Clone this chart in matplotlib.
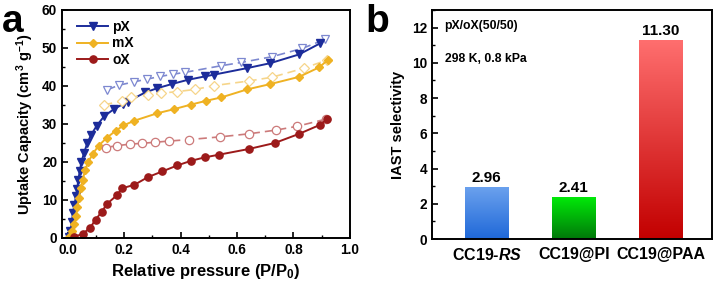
import numpy as np
import matplotlib.pyplot as plt
from matplotlib.ticker import MultipleLocator

plt.rcParams['font.family'] = ['Liberation Sans', 'DejaVu Sans']
plt.rcParams['font.weight'] = 'bold'
plt.rcParams['axes.labelweight'] = 'bold'
plt.rcParams['mathtext.fontset'] = 'custom'
plt.rcParams['mathtext.rm'] = 'Liberation Sans:bold'
plt.rcParams['mathtext.it'] = 'Liberation Sans:italic:bold'
plt.rcParams['mathtext.bf'] = 'Liberation Sans:bold'
plt.rcParams['mathtext.default'] = 'rm'

# 吸附 / 脱附 数据 (P/P0, cm3/g)
px_ads_x = [0.004, 0.01, 0.015, 0.019, 0.024, 0.03, 0.034, 0.038, 0.043, 0.049, 0.058, 0.07,
            0.084, 0.103, 0.129, 0.164, 0.198, 0.213, 0.275, 0.317, 0.369, 0.425, 0.485, 0.52,
            0.636, 0.718, 0.82, 0.894]
px_ads_y = [0.3, 1.8, 4.1, 6.6, 8.6, 11.0, 12.9, 15.3, 17.5, 20.0, 22.3, 25.0,
            27.2, 29.5, 32.0, 33.9, 35.3, 35.9, 38.3, 39.4, 40.5, 41.6, 42.5, 43.0,
            44.7, 46.0, 48.3, 51.2]
px_des_x = [0.141, 0.181, 0.237, 0.281, 0.327, 0.374, 0.417, 0.542, 0.616, 0.724, 0.832, 0.913]
px_des_y = [39.0, 40.2, 41.1, 41.8, 42.5, 43.1, 43.6, 45.3, 46.2, 47.7, 49.9, 52.3]

mx_ads_x = [0.005, 0.017, 0.024, 0.03, 0.035, 0.04, 0.046, 0.054, 0.062, 0.074, 0.09, 0.11,
            0.138, 0.17, 0.198, 0.234, 0.317, 0.377, 0.437, 0.491, 0.545, 0.636, 0.718, 0.82,
            0.891, 0.921]
mx_ads_y = [0.3, 1.8, 3.8, 5.9, 8.1, 10.5, 13.1, 15.3, 17.9, 20.1, 22.2, 24.3,
            26.3, 28.2, 29.6, 30.8, 32.8, 33.9, 35.1, 36.1, 37.0, 39.1, 40.5, 42.4,
            44.9, 46.8]
mx_des_x = [0.129, 0.192, 0.225, 0.285, 0.33, 0.387, 0.453, 0.519, 0.641, 0.724, 0.838, 0.918]
mx_des_y = [35.0, 36.1, 37.0, 37.6, 38.1, 38.5, 39.1, 40.1, 41.3, 42.3, 44.7, 46.8]

ox_ads_x = [0.024, 0.054, 0.08, 0.099, 0.121, 0.14, 0.174, 0.194, 0.237, 0.284, 0.335, 0.389,
            0.437, 0.485, 0.535, 0.641, 0.734, 0.82, 0.895, 0.918]
ox_ads_y = [0.3, 1.1, 2.7, 4.8, 6.9, 9.0, 11.2, 13.1, 14.0, 16.0, 17.5, 19.1,
            20.3, 21.2, 21.9, 23.4, 25.0, 27.4, 29.8, 31.2]
ox_des_x = [0.135, 0.176, 0.222, 0.262, 0.311, 0.359, 0.431, 0.539, 0.641, 0.739, 0.814, 0.916]
ox_des_y = [23.8, 24.3, 24.7, 24.9, 25.2, 25.5, 25.9, 26.6, 27.4, 28.4, 29.4, 31.3]

# IAST 选择性
samples = ['CC19-$\\mathit{RS}$', 'CC19@PI', 'CC19@PAA']
selectivity = [2.96, 2.41, 11.30]

fig = plt.figure(figsize=(7.2, 2.85), dpi=100)

# ---- a ----
ax1 = fig.add_axes([0.086, 0.165, 0.400, 0.800])
series = [
    ('pX', px_ads_x, px_ads_y, px_des_x, px_des_y, 'v', '#1c2c9a', '#7d88d0'),
    ('mX', mx_ads_x, mx_ads_y, mx_des_x, mx_des_y, 'D', '#efb223', '#f6d58a'),
    ('oX', ox_ads_x, ox_ads_y, ox_des_x, ox_des_y, 'o', '#9c1a1a', '#cc7a7a'),
]
for name, ax_, ay_, dx_, dy_, mk, c, lc in series:
    ms = 5.2 if mk != 'D' else 4.4
    ax1.plot(dx_, dy_, ls=(0, (5, 3)), color=lc, lw=1.2, marker=mk, ms=ms + 0.8,
             mfc='white', mec=lc, mew=0.9)
    ax1.plot(ax_, ay_, ls='-', color=c, lw=1.4, marker=mk, ms=ms, mfc=c, mec=c,
             label=name)
ax1.set_xlim(-0.02, 1.0)
ax1.set_ylim(0, 60)
ax1.xaxis.set_major_locator(MultipleLocator(0.2))
ax1.xaxis.set_minor_locator(MultipleLocator(0.1))
ax1.yaxis.set_major_locator(MultipleLocator(10))
ax1.yaxis.set_minor_locator(MultipleLocator(5))
ax1.set_xticks(np.arange(0, 1.01, 0.2))
ax1.set_xticklabels([f'{v:.1f}' for v in np.arange(0, 1.01, 0.2)])
ax1.set_xlabel('Relative pressure (P/P$_0$)', fontsize=12, labelpad=4)
ax1.set_ylabel('Uptake Capacity (cm$^3$ g$^{-1}$)', fontsize=10.5, labelpad=4)
ax1.legend(loc='upper left', frameon=False, fontsize=10, handlelength=2.2,
           handletextpad=0.3, labelspacing=0.2, borderaxespad=0.3,
           bbox_to_anchor=(0.02, 1.0))

# ---- b ----
ax2 = fig.add_axes([0.600, 0.161, 0.389, 0.804])
xpos = np.arange(len(samples))
bars = ax2.bar(xpos, selectivity, width=0.5, color='none', edgecolor='none', zorder=2)
grads = [('#1f68d8', '#6ca2ee'), ('#00780a', '#00ec08'), ('#c20000', '#ff6f6f')]
for b, (c0, c1) in zip(bars, grads):
    x0, y0 = b.get_x(), b.get_y()
    w, h = b.get_width(), b.get_height()
    c0 = np.array(plt.matplotlib.colors.to_rgb(c0))
    c1 = np.array(plt.matplotlib.colors.to_rgb(c1))
    t = np.linspace(0, 1, 256)[:, None]
    img = (c0 + (c1 - c0) * t)[:, None, :]
    im = ax2.imshow(img, extent=[x0, x0 + w, y0, y0 + h], origin='lower',
                    aspect='auto', zorder=1)
    im.set_clip_path(b)
    ax2.text(x0 + w / 2, h + 0.12, f'{h:.2f}', ha='center', va='bottom',
             fontsize=11, fontweight='bold')
ax2.set_xlim(-0.63, 2.59)
ax2.set_ylim(0, 13)
ax2.set_xticks(xpos)
ax2.set_xticklabels(samples, fontsize=11.5)
ax2.yaxis.set_major_locator(MultipleLocator(2))
ax2.yaxis.set_minor_locator(MultipleLocator(1))
ax2.set_ylabel('IAST selectivity', fontsize=10.5, labelpad=5)
ax2.text(0.045, 0.93, 'pX/oX(50/50)', transform=ax2.transAxes, fontsize=8.8,
         va='center')
ax2.text(0.045, 0.785, '298 K, 0.8 kPa', transform=ax2.transAxes, fontsize=8.8,
         va='center')

for ax in (ax1, ax2):
    for s in ax.spines.values():
        s.set_linewidth(1.4)
    ax.tick_params(which='major', direction='in', length=4, width=1.2, labelsize=9.8)
    ax.tick_params(which='minor', direction='in', length=2, width=1.0)
    for lab in ax.get_xticklabels() + ax.get_yticklabels():
        lab.set_fontweight('bold')
ax2.tick_params(axis='x', which='both', length=0, pad=6, labelsize=11.5)

fig.text(0.003, 0.985, 'a', fontsize=28, fontweight='bold', va='top')
fig.text(0.508, 0.985, 'b', fontsize=28, fontweight='bold', va='top')

fig.savefig('out.png', dpi=100)
